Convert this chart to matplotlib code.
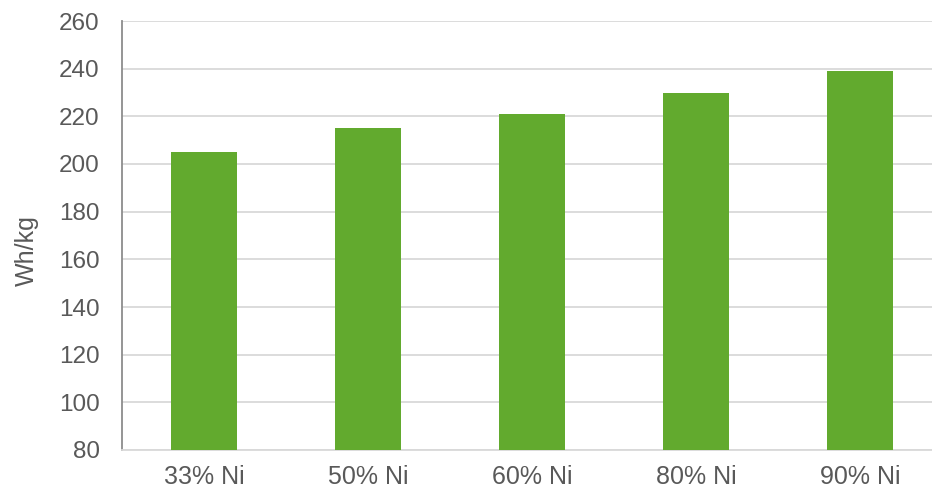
import matplotlib.pyplot as plt

categories = ['33% Ni', '50% Ni', '60% Ni', '80% Ni', '90% Ni']
energy_density = [205, 215, 221, 230, 239]
y_ticks = [80, 100, 120, 140, 160, 180, 200, 220, 240, 260]

plt.rcParams['font.family'] = ['Liberation Sans', 'DejaVu Sans']
text_color = '#595959'

fig = plt.figure(figsize=(9.32, 4.93), dpi=100)
ax = fig.add_axes([122 / 932, 43 / 493, 820 / 932, 429 / 493])

x = range(len(categories))
ax.bar(x, energy_density, width=0.4, color='#62AA2E', zorder=3)

ax.set_xlim(-0.5, len(categories) - 0.5)
ax.set_ylim(80, 260)
ax.set_yticks(y_ticks)
ax.set_xticks(list(x))
ax.set_xticklabels(categories)
ax.grid(axis='y', color='#D9D9D9', linewidth=1.3, zorder=0)

for side in ['top', 'right']:
    ax.spines[side].set_visible(False)
ax.spines['left'].set_color('#8C8C8C')
ax.spines['left'].set_linewidth(1.3)
ax.spines['bottom'].set_color('#D9D9D9')
ax.spines['bottom'].set_linewidth(1.3)

ax.tick_params(axis='y', length=0, labelsize=17.5, labelcolor=text_color, pad=16)
ax.tick_params(axis='x', length=0, labelsize=18, labelcolor=text_color, pad=11)
ax.set_ylabel('Wh/kg', fontsize=18, color=text_color)
ax.yaxis.set_label_coords(-0.101, 0.466)

fig.savefig('out.png', dpi=100)
